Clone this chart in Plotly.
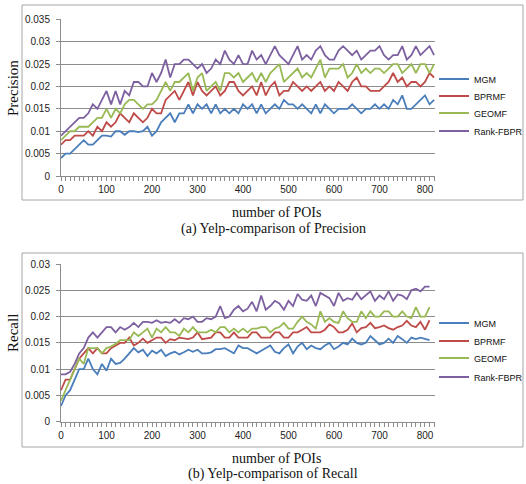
import plotly.graph_objects as go

# ---------------- data ----------------
series_names = ["MGM", "BPRMF", "GEOMF", "Rank-FBPR"]
series_colors = ["#4A7EBB", "#BE4B48", "#98B954", "#7D60A0"]

# (a) Precision, number of POIs 0..820 step 10
x_precision = list(range(0, 830, 10))
precision_mgm = [
    .004, .005, .005, .006, .007, .008, .007, .007, .008, .009,
    .009, .0088, .010, .010, .0092, .010, .010, .0098, .010, .011,
    .009, .010, .012, .013, .014, .012, .014, .014, .016, .014,
    .016, .015, .016, .014, .016, .014, .015, .014, .015, .014,
    .016, .015, .016, .014, .016, .014, .015, .016, .015, .017,
    .016, .016, .015, .016, .015, .014, .016, .014, .016, .015,
    .014, .015, .015, .015, .016, .015, .014, .015, .015, .016,
    .015, .016, .015, .017, .016, .018, .015, .015, .016, .017,
    .018, .016, .017]
precision_bprmf = [
    .007, .008, .008, .009, .009, .009, .010, .009, .011, .010,
    .012, .011, .012, .014, .013, .012, .014, .013, .012, .013,
    .015, .014, .014, .017, .018, .019, .017, .019, .021, .018,
    .021, .019, .018, .019, .020, .018, .019, .021, .021, .019,
    .018, .019, .020, .018, .021, .018, .020, .021, .018, .019,
    .019, .021, .020, .019, .020, .019, .020, .021, .019, .020,
    .019, .021, .020, .019, .021, .022, .020, .020, .019, .019,
    .019, .020, .021, .023, .021, .022, .020, .021, .021, .020,
    .021, .023, .022]
precision_geomf = [
    .008, .009, .010, .010, .011, .011, .011, .012, .013, .013,
    .015, .013, .015, .014, .016, .017, .017, .016, .015, .016,
    .016, .017, .019, .021, .019, .021, .021, .022, .023, .019,
    .022, .023, .019, .020, .021, .019, .023, .023, .022, .023,
    .021, .022, .023, .021, .023, .021, .023, .024, .025, .021,
    .022, .023, .024, .022, .023, .022, .024, .026, .022, .024,
    .024, .024, .025, .022, .023, .025, .023, .024, .023, .024,
    .024, .023, .024, .025, .025, .023, .024, .025, .023, .025,
    .025, .023, .025]
precision_rank_fbpr = [
    .009, .010, .011, .012, .013, .013, .014, .016, .015, .017,
    .019, .016, .019, .016, .019, .018, .021, .021, .020, .020,
    .023, .021, .023, .026, .022, .025, .025, .026, .026, .025,
    .024, .025, .023, .024, .026, .025, .028, .026, .025, .027,
    .025, .025, .028, .026, .027, .025, .027, .029, .027, .026,
    .025, .027, .029, .026, .027, .026, .028, .029, .027, .026,
    .026, .028, .029, .028, .027, .028, .026, .027, .028, .028,
    .029, .027, .026, .027, .027, .029, .026, .027, .029, .027,
    .028, .029, .027]

# (b) Recall, number of POIs 0..810 step 10
x_recall = list(range(0, 820, 10))
recall_mgm = [
    .003, .005, .006, .008, .010, .010, .012, .010, .009, .011,
    .0097, .012, .011, .0112, .012, .013, .014, .0132, .0137, .0125,
    .0135, .013, .0137, .0125, .013, .0133, .0128, .0132, .0137, .0133,
    .0137, .013, .013, .0132, .0138, .0138, .014, .0135, .013, .0145,
    .014, .014, .0135, .013, .0135, .014, .0145, .0133, .013, .014,
    .0147, .013, .0143, .015, .0138, .0145, .014, .0138, .0145, .015,
    .0138, .0143, .015, .0147, .0158, .015, .0147, .015, .0163, .0155,
    .0147, .015, .0158, .015, .0163, .0157, .015, .016, .0157, .016,
    .0157, .0155]
recall_bprmf = [
    .006, .008, .008, .010, .012, .013, .014, .013, .014, .013,
    .013, .014, .0145, .015, .015, .016, .0145, .015, .0158, .015,
    .0155, .016, .016, .015, .0157, .0155, .016, .0158, .0157, .016,
    .017, .0157, .0158, .016, .017, .017, .016, .016, .017, .016,
    .016, .016, .017, .017, .016, .016, .016, .017, .017, .016,
    .016, .017, .017, .0175, .018, .017, .017, .017, .0175, .0185,
    .018, .017, .017, .0175, .0187, .017, .0178, .018, .0188, .0178,
    .018, .0183, .0178, .0175, .018, .0183, .0192, .0183, .018, .019,
    .0175, .0193]
recall_geomf = [
    .004, .006, .008, .010, .012, .011, .014, .014, .014, .013,
    .014, .0143, .0148, .0155, .0155, .0155, .017, .0163, .017, .0177,
    .016, .0177, .017, .018, .017, .017, .0163, .0177, .017, .018,
    .017, .017, .017, .0175, .017, .018, .018, .017, .0177, .017,
    .0177, .017, .0177, .0177, .018, .018, .017, .0177, .018, .0188,
    .0177, .0177, .019, .020, .019, .0185, .0177, .021, .019, .0197,
    .019, .0188, .021, .0197, .019, .019, .021, .0197, .021, .020,
    .020, .021, .021, .020, .020, .021, .020, .0197, .0218, .020,
    .020, .0218]
recall_rank_fbpr = [
    .009, .009, .0095, .011, .013, .014, .016, .017, .016, .017,
    .018, .018, .017, .018, .0175, .018, .0188, .018, .019, .019,
    .0188, .0193, .0188, .019, .0188, .0195, .0188, .0197, .0195, .020,
    .019, .019, .0197, .0195, .020, .022, .0197, .020, .0213, .022,
    .021, .0215, .0228, .021, .024, .0213, .022, .023, .0225, .0213,
    .023, .022, .0243, .0232, .023, .024, .022, .0245, .024, .0235,
    .022, .0245, .023, .0235, .0232, .0245, .0233, .024, .0248, .023,
    .024, .0233, .0248, .023, .0242, .024, .0233, .025, .0253, .0248,
    .0257, .0257]

y_ticks_precision = [0, 0.005, 0.01, 0.015, 0.02, 0.025, 0.03, 0.035]
y_tick_labels_precision = ["0", "0.005", "0.01", "0.015", "0.02", "0.025", "0.03", "0.035"]
y_ticks_recall = [0, 0.005, 0.01, 0.015, 0.02, 0.025, 0.03]
y_tick_labels_recall = ["0", "0.005", "0.01", "0.015", "0.02", "0.025", "0.03"]
x_ticks = [0, 100, 200, 300, 400, 500, 600, 700, 800]

precision_series = [precision_mgm, precision_bprmf, precision_geomf, precision_rank_fbpr]
recall_series = [recall_mgm, recall_bprmf, recall_geomf, recall_rank_fbpr]

# ---------------- figure ----------------
W, H = 526, 484
def px(v):  # horizontal pixel -> paper
    return v / W
def py(v):  # vertical pixel (from top) -> paper
    return 1 - v / H

legend_rows_top = [79, 96, 113, 131]
legend_rows_bottom = [323, 341, 358, 377]

fig = go.Figure()
legend_layouts = {}
lfont = dict(family="Liberation Sans, Arial", size=9, color="#111111")
k = 0
for xs, series, xa, ya, rows in [(x_precision, precision_series, "x", "y", legend_rows_top),
                                 (x_recall, recall_series, "x2", "y2", legend_rows_bottom)]:
    for name, color, ys, row in zip(series_names, series_colors, series, rows):
        k += 1
        lname = "legend" if k == 1 else f"legend{k}"
        fig.add_trace(go.Scatter(x=xs, y=ys, mode="lines", name=name,
                                 line=dict(color=color, width=1.8),
                                 xaxis=xa, yaxis=ya, legend=lname))
        legend_layouts[lname] = dict(x=px(434), y=py(row), xanchor="left", yanchor="middle",
                                     font=lfont, bgcolor="rgba(0,0,0,0)")

grid = "#8C8C8C"
tickfont = dict(family="Liberation Sans, Arial", size=10, color="#222222")
xcommon = dict(range=[0, 822], tickmode="array", tickvals=x_ticks,
               ticks="outside", ticklen=4, tickcolor=grid,
               minor=dict(dtick=10, tick0=0, ticks="outside", ticklen=4, tickcolor=grid),
               showline=True, linecolor=grid, linewidth=1,
               showgrid=False, zeroline=False, tickfont=tickfont,
               domain=[px(61), px(435)])
ycommon = dict(ticks="outside", ticklen=4, tickcolor=grid,
               showline=True, linecolor=grid, linewidth=1,
               showgrid=True, gridcolor=grid, gridwidth=1,
               zeroline=False, tickfont=tickfont, ticklabelstandoff=4)

fig.update_layout(
    width=W, height=H, margin=dict(l=0, r=0, t=0, b=0, autoexpand=False),
    paper_bgcolor="white", plot_bgcolor="white",
    xaxis=dict(xcommon, anchor="y"),
    yaxis=dict(ycommon, anchor="x", range=[0, 0.035], tickvals=y_ticks_precision,
               ticktext=y_tick_labels_precision, domain=[py(176), py(19.3)]),
    xaxis2=dict(xcommon, anchor="y2"),
    yaxis2=dict(ycommon, anchor="x2", range=[0, 0.03], tickvals=y_ticks_recall,
                ticktext=y_tick_labels_recall, domain=[py(421.7), py(264)]),
    showlegend=True,
    **legend_layouts,
)

# chart-area borders
for top, bot in [(5, 200), (253, 447)]:
    fig.add_shape(type="rect", xref="paper", yref="paper",
                  x0=px(22), x1=px(523), y0=py(bot), y1=py(top),
                  line=dict(color="#A6A6A6", width=1), fillcolor="rgba(0,0,0,0)", layer="below")

serif = "Liberation Serif, Times New Roman"
texts = [
    ("Precision", 13, 88, 15, -90),
    ("number of POIs", 276, 212, 14, 0),
    ("(a) Yelp-comparison of Precision", 273, 229, 14, 0),
    ("Recall", 13, 333, 15, -90),
    ("number of POIs", 276, 458, 14, 0),
    ("(b) Yelp-comparison of Recall", 273, 474, 14, 0),
]
for t, xx, yy, fs, ang in texts:
    fig.add_annotation(text=t, x=px(xx), y=py(yy), xref="paper", yref="paper",
                       showarrow=False, textangle=ang, xanchor="center", yanchor="middle",
                       font=dict(family=serif, size=fs, color="#111111"))

fig.write_html("out.html")
